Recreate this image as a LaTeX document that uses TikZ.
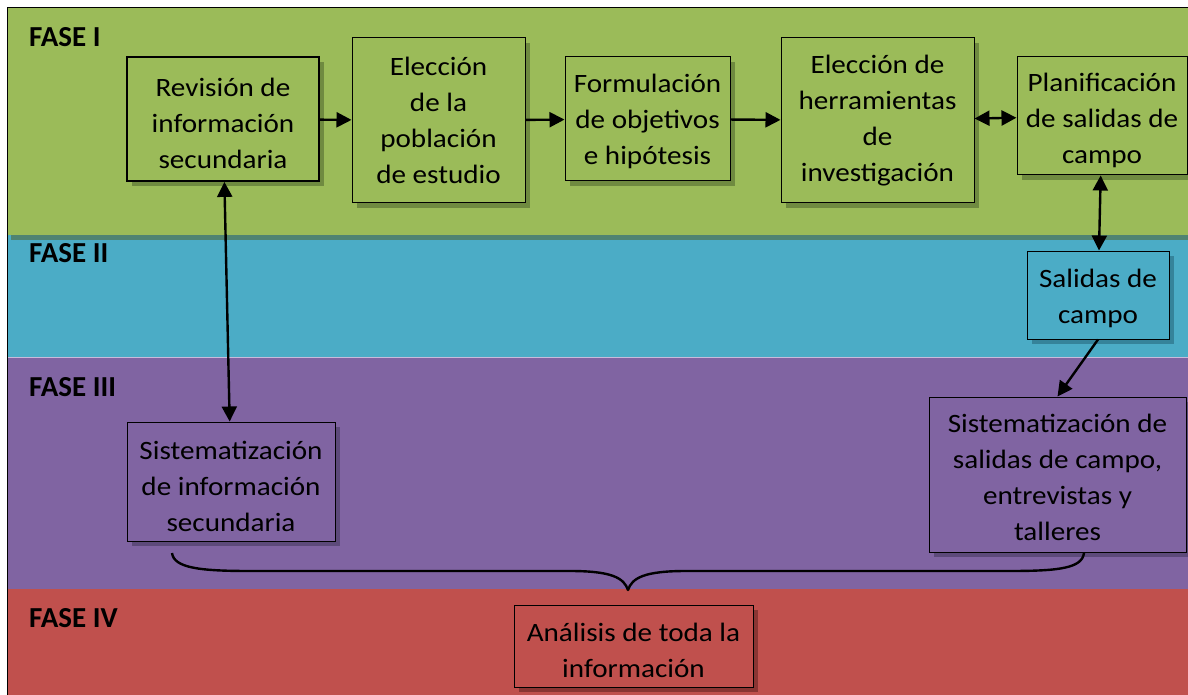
\documentclass[tikz,border=0pt]{standalone}
\usepackage{fontspec}
\setmainfont{Carlito}
\newfontfamily\boxfont[FakeStretch=1.1]{Carlito}
\usetikzlibrary{arrows.meta,shadows}
\newcommand{\tpad}[1]{\rule{0pt}{#1}}
\definecolor{cgreen}{HTML}{9BBB59}
\definecolor{cgreensh}{HTML}{6F8A40}
\definecolor{cstrip}{HTML}{4F8372}
\definecolor{ccyan}{HTML}{4BACC6}
\definecolor{ccyansh}{HTML}{35839A}
\definecolor{cline}{HTML}{C9BBDB}
\definecolor{cpurple}{HTML}{8064A2}
\definecolor{cpurplesh}{HTML}{5D4A7A}
\definecolor{cred}{HTML}{C0504D}
\definecolor{credsh}{HTML}{8A3533}
\tikzset{
  fase/.style={anchor=base west,inner sep=0pt,font=\fontsize{29}{30}\selectfont\bfseries},
  box/.style={draw=black,line width=1pt,align=center,inner sep=0pt,
    font=\boxfont\fontsize{26.5}{36}\selectfont},
  gbox/.style={box,fill=cgreen,general shadow={shadow xshift=5pt,shadow yshift=-5pt,fill=cgreensh,draw=none}},
  cbox/.style={box,fill=ccyan,general shadow={shadow xshift=5pt,shadow yshift=-5pt,fill=ccyansh,draw=none}},
  pbox/.style={box,fill=cpurple,general shadow={shadow xshift=5pt,shadow yshift=-5pt,fill=cpurplesh,draw=none}},
  rbox/.style={box,fill=cred,general shadow={shadow xshift=5pt,shadow yshift=-5pt,fill=credsh,draw=none}},
  arr/.style={line width=2.4pt,-{Triangle[length=15pt,width=15pt]}},
  darr/.style={line width=2.4pt,{Triangle[length=15pt,width=15pt]}-{Triangle[length=15pt,width=15pt]}},
  bracestyle/.style={line width=2.4pt,line join=round}
}
\begin{document}
\begin{tikzpicture}[x=1pt,y=-1pt]
\useasboundingbox (0,0) rectangle (1188,695);
\fill[white] (0,0) rectangle (1188,695);
% bands
\fill[cgreen] (7,8) rectangle (1188,235);
\fill[ccyan] (7,235) rectangle (1188,357);
\fill[cstrip] (11,235) rectangle (1188,240);
\fill[cline] (7,356.5) rectangle (1188,358);
\fill[cpurple] (7,358) rectangle (1188,589);
\fill[cred] (7,589) rectangle (1188,695);
\draw[line width=1pt] (1188,7.5) -- (7,7.5) -- (7,695);
% phase labels
\node[fase] (f1) at (29,47) {FASE I};
\node[fase] (f2) at (29,262) {FASE II};
\node[fase] (f3) at (29,396) {FASE III};
\node[fase] (f4) at (29,627) {FASE IV};
% boxes
\node[gbox,line width=1.8pt,minimum width=192pt,minimum height=124pt] (rev) at (223,119) {\tpad{28pt}Revisión de\\información\\secundaria};
\node[gbox,minimum width=173pt,minimum height=165pt] (pob) at (438.5,120.5) {Elección\\de la\\población\\de estudio};
\node[gbox,minimum width=165pt,minimum height=124pt] (form) at (647.5,119) {\tpad{24pt}Formulación\\de objetivos\\e hipótesis};
\node[gbox,minimum width=193pt,minimum height=165pt] (herr) at (877.5,120.5) {Elección de\\herramientas\\de\\investigación};
\node[gbox,minimum width=170pt,minimum height=118pt] (plan) at (1102,116) {\tpad{28pt}Planificación\\de salidas de\\campo};
\node[cbox,minimum width=142pt,minimum height=88pt] (sal) at (1098,295) {\tpad{26pt}Salidas de\\campo};
\node[pbox,minimum width=208pt,minimum height=119pt] (sis1) at (231,481.5) {\tpad{28pt}Sistematización\\de información\\secundaria};
\node[pbox,minimum width=257pt,minimum height=155pt] (sis2) at (1057.5,474.5) {\tpad{25pt}Sistematización de\\salidas de campo,\\entrevistas y\\talleres};
\node[rbox,minimum width=239pt,minimum height=82pt] (ana) at (633.5,646) {\tpad{27pt}Análisis de toda la\\información};
% connectors
\draw[arr] (rev) -- (pob);
\draw[arr] (pob) -- (form);
\draw[arr] (form) -- (herr);
\draw[darr] (herr) -- (plan);
\draw[darr] (plan) -- (sal);
\draw[darr] (rev) -- (sis1);
\draw[arr] (sal.south) -- (sis2.north);
% brace
\coordinate (bl) at (172,553);
\coordinate (bt) at (628,590);
\coordinate (br) at (1084,553);
\draw[bracestyle] (bl) .. controls (174,568) and (200,571) .. (250,571)
  -- (570,571) .. controls (612,571) and (624,578) .. (bt)
  .. controls (632,578) and (644,571) .. (686,571)
  -- (1010,571) .. controls (1060,571) and (1082,568) .. (br);
\end{tikzpicture}
\end{document}
